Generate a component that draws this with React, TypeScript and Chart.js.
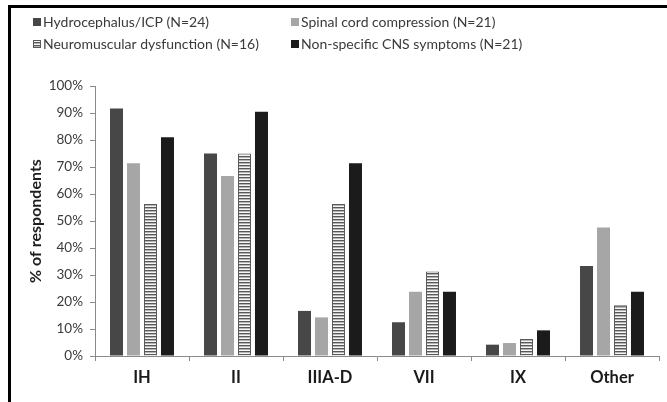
import React, { useEffect, useRef } from "react";
import { Chart, registerables } from "chart.js";

Chart.register(...registerables);

const categories = ["IH", "II", "IIIA-D", "VII", "IX", "Other"];
const seriesNames = [
  "Hydrocephalus/ICP (N=24)",
  "Spinal cord compression (N=21)",
  "Neuromuscular dysfunction (N=16)",
  "Non-specific CNS symptoms (N=21)",
];
const hydrocephalus = [91.7, 75.0, 16.7, 12.5, 4.2, 33.3];
const spinalCord = [71.4, 66.7, 14.3, 23.8, 4.8, 47.6];
const neuromuscular = [56.3, 75.0, 56.3, 31.3, 6.3, 18.8];
const nonSpecific = [81.0, 90.5, 71.4, 23.8, 9.5, 23.8];
const yTicks = [0, 10, 20, 30, 40, 50, 60, 70, 80, 90, 100];

const FONT = "Lato, 'Open Sans', sans-serif";

function makeStripe(): CanvasPattern | string {
  const c = document.createElement("canvas");
  c.width = 4;
  c.height = 3;
  const x = c.getContext("2d");
  if (!x) return "#ccc";
  x.fillStyle = "#f6f6f6";
  x.fillRect(0, 0, 4, 3);
  x.fillStyle = "#585858";
  x.fillRect(0, 0, 4, 1);
  x.fillStyle = "#b4b4b4";
  x.fillRect(0, 1, 4, 1);
  const p = x.createPattern(c, "repeat");
  return p || "#ccc";
}

export default function App() {
  const ref = useRef<HTMLCanvasElement>(null);

  useEffect(() => {
    const canvas = ref.current;
    if (!canvas) return;
    const stripe = makeStripe();
    const colors: any[] = ["#474747", "#a6a6a6", stripe, "#1b1b1b"];
    const borders = ["#474747", "#a6a6a6", "#5a5a5a", "#1b1b1b"];
    const data = [hydrocephalus, spinalCord, neuromuscular, nonSpecific];

    const legendPlugin = {
      id: "customLegend",
      afterDraw(chart: any) {
        const ctx = chart.ctx;
        ctx.save();
        const pos = [
          [33, 22],
          [291, 22],
          [33, 44],
          [291, 44],
        ];
        ctx.font = `14px ${FONT}`;
        ctx.textBaseline = "middle";
        ctx.textAlign = "left";
        seriesNames.forEach((name, i) => {
          const [x, y] = pos[i];
          ctx.fillStyle = colors[i];
          ctx.fillRect(x, y - 4, 8, 8);
          if (i === 2) {
            ctx.strokeStyle = borders[i];
            ctx.lineWidth = 1;
            ctx.strokeRect(x + 0.5, y - 3.5, 7, 7);
          }
          ctx.fillStyle = "#3a3a3a";
          ctx.fillText(name, x + 10, y);
        });
        ctx.restore();
      },
    };

    const chart = new Chart(canvas, {
      type: "bar",
      data: {
        labels: categories,
        datasets: seriesNames.map((name, i) => ({
          label: name,
          data: data[i],
          backgroundColor: colors[i],
          borderColor: borders[i],
          borderWidth: i === 2 ? 1 : 0,
          categoryPercentage: 0.723,
          barPercentage: 0.765,
        })),
      },
      options: {
        responsive: false,
        animation: false,
        devicePixelRatio: 1,
        layout: { padding: { top: 86, right: 8, left: 0, bottom: 0 } },
        plugins: {
          legend: { display: false },
          tooltip: { enabled: false },
        },
        scales: {
          x: {
            afterFit(scale: any) {
              scale.height = 46;
            },
            grid: {
              drawOnChartArea: false,
              drawTicks: true,
              tickLength: 5,
              color: "#8a8a8a",
              offset: true,
            },
            border: { color: "#8a8a8a", width: 1 },
            ticks: {
              color: "#1a1a1a",
              font: { family: FONT, size: 16.5, weight: "bold" },
              padding: 7,
            },
          },
          y: {
            min: 0,
            max: 100,
            afterFit(scale: any) {
              scale.width = 95;
            },
            afterBuildTicks(scale: any) {
              scale.ticks = yTicks.map((v) => ({ value: v }));
            },
            grid: {
              drawOnChartArea: false,
              drawTicks: true,
              tickLength: 5,
              color: "#8a8a8a",
            },
            border: { color: "#8a8a8a", width: 1 },
            ticks: {
              color: "#3a3a3a",
              font: { family: FONT, size: 13.5 },
              padding: 7,
              callback: (v: any) => `${v}%`,
            },
            title: {
              display: true,
              text: "% of respondents",
              color: "#1e1e1e",
              font: { family: FONT, size: 16, weight: "bold" },
              padding: { top: 26, bottom: 0 },
            },
          },
        },
      },
      plugins: [legendPlugin],
    });
    return () => chart.destroy();
  }, []);

  return (
    <div>
      <canvas
        ref={ref}
        width={667}
        height={402}
        style={{ position: "fixed", left: 0, top: 0, width: 667, height: 402 }}
      />
      <div
        style={{
          position: "fixed",
          left: 8,
          top: 5,
          width: 700,
          height: 500,
          borderTop: "3px solid #000",
          borderLeft: "3px solid #000",
          pointerEvents: "none",
        }}
      />
    </div>
  );
}
